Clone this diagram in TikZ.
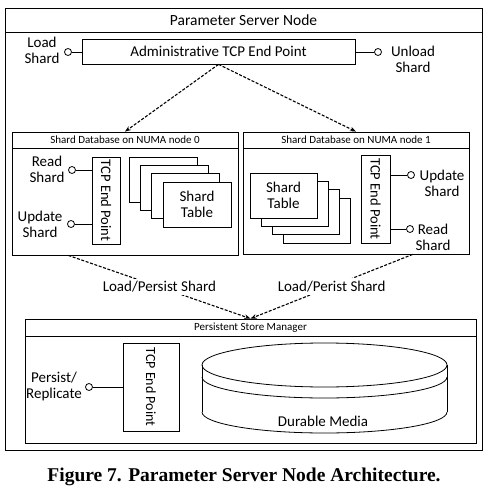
\documentclass[tikz,border=0pt]{standalone}
\usepackage{fontspec}
\setmainfont{Carlito}[Ligatures={NoCommon}]
\newfontfamily\capfont{Liberation Serif}
\usetikzlibrary{arrows.meta,calc}
\tikzset{
  box/.style={draw, fill=white, inner sep=0pt, line width=0.8pt},
  txt/.style={font=\fontsize{15}{16}\selectfont, align=center, inner sep=0pt},
  small/.style={font=\fontsize{11}{12}\selectfont, inner sep=0pt},
  port/.style={circle, draw, fill=white, inner sep=0pt, minimum size=7pt, line width=0.8pt},
  wire/.style={line width=0.8pt},
  dasharrow/.style={line width=1.1pt, dash pattern=on 3pt off 1.6pt, -{Stealth[length=6pt,width=4.5pt]}},
  tcpbox/.style={box, font=\fontsize{14.5}{15}\selectfont}
}
\begin{document}
\begin{tikzpicture}[x=1pt,y=-1pt]
\useasboundingbox (0,0) rectangle (488,487);
% outer node
\node[box, minimum width=477pt, minimum height=442pt] (outer) at (243.5,229) {};
\draw[wire] (5,32) -- (482,32);
\node[txt, font=\fontsize{15.5}{16}\selectfont] (title) at (243.5,20) {Parameter Server Node};
% admin
\node[box, minimum width=273pt, minimum height=25pt, font=\fontsize{15}{16}\selectfont] (admin) at (218.5,51.5) {Administrative TCP End Point};
\node[port] (pl) at (68,52) {};
\node[port] (pr) at (378,52) {};
\draw[wire] (pl) -- (admin.west |- pl);
\draw[wire] (admin.east |- pr) -- (pr);
\node[txt] (loadS) at (42,50) {Load\\Shard};
\node[txt] (unloadS) at (413,59) {Unload\\Shard};
% DB0
\node[box, minimum width=226pt, minimum height=123pt] (db0) at (125,193.5) {};
\draw[wire] (12,148) -- (238,148);
\node[small] (db0t) at (125,140) {Shard Database on NUMA node 0};
\node[tcpbox, minimum width=28pt, minimum height=87pt] (tcp0) at (106,200.5) {};
\node[rotate=-90, font=\fontsize{14.5}{15}\selectfont, inner sep=0pt] (tcp0t) at (106,200.5) {TCP End Point};
\node[port] (p0a) at (72,170) {};
\node[port] (p0b) at (71,224) {};
\draw[wire] (p0a) -- (tcp0.west |- p0a);
\draw[wire] (p0b) -- (tcp0.west |- p0b);
\node[txt] (rs0) at (47,169.5) {Read\\Shard};
\node[txt] (us0) at (40,224) {Update\\Shard};
\foreach \k in {3,2,1} {
  \node[box, minimum width=68pt, minimum height=45pt] (st0\k) at ({197-11.3*\k},{204.5-8.3*\k}) {};
}
\node[box, minimum width=68pt, minimum height=45pt, txt] (st0) at (197,204.5) {Shard\\Table};
% DB1
\node[box, minimum width=226pt, minimum height=122pt] (db1) at (356,193) {};
\draw[wire] (243,148) -- (469,148);
\node[small] (db1t) at (356,140) {Shard Database on NUMA node 1};
\foreach \k in {3,2,1} {
  \node[box, minimum width=67pt, minimum height=45pt] (st1\k) at ({283.5+11*\k},{195.5+8.3*\k}) {};
}
\node[box, minimum width=67pt, minimum height=45pt, txt] (st1) at (283.5,195.5) {Shard\\Table};
\node[tcpbox, minimum width=29pt, minimum height=88pt] (tcp1) at (375.5,199) {};
\node[rotate=-90, font=\fontsize{14.5}{15}\selectfont, inner sep=0pt] (tcp1t) at (375.5,199) {TCP End Point};
\node[port] (p1a) at (411,175) {};
\node[port] (p1b) at (410,229) {};
\draw[wire] (tcp1.east |- p1a) -- (p1a);
\draw[wire] (tcp1.east |- p1b) -- (p1b);
\node[txt] (us1) at (442,183) {Update\\Shard};
\node[txt] (rs1) at (433,237) {Read\\Shard};
% admin arrows
\draw[dasharrow] (admin.south) -- (db0.north);
\draw[dasharrow] (admin.south) -- (db1.north);
% PSM
\node[box, minimum width=451pt, minimum height=124pt] (psm) at (250.5,381) {};
\draw[wire] (25,336) -- (476,336);
\node[small] (psmt) at (250.5,328) {Persistent Store Manager};
\node[tcpbox, minimum width=56pt, minimum height=88pt] (tcp2) at (151,387) {};
\node[rotate=-90, font=\fontsize{14}{15}\selectfont, inner sep=0pt] (tcp2t) at (151,387) {TCP End Point};
\node[port] (p2) at (89,387) {};
\draw[wire] (p2) -- (tcp2.west |- p2);
\node[txt] (pr2) at (54,386) {Persist/\\Replicate};
% cylinder
\draw[wire] (202,365) -- (202,412);
\draw[wire] (447,365) -- (447,412);
\draw[wire] (324.5,365) ellipse [x radius=122.5pt, y radius=22pt];
\draw[wire] (447,377) arc [start angle=0, end angle=-180, x radius=122.5pt, y radius=21pt];
\draw[wire] (447,412) arc [start angle=0, end angle=-180, x radius=122.5pt, y radius=21pt];
\node[txt] (dm) at (323,421) {Durable Media};
% load/persist arrows
\draw[dasharrow] ($(db0.south west)!0.25!(db0.south east)$) -- node[txt, fill=white, inner sep=2.5pt] {Load/Persist Shard} (psm.north);
\draw[dasharrow] ($(db1.south west)!0.75!(db1.south east)$) -- node[txt, fill=white, inner sep=2.5pt] {Load/Perist Shard} (psm.north);
% caption
\node[font=\capfont\bfseries\fontsize{19.5}{20}\selectfont, inner sep=0pt, anchor=base] (cap) at (244,481.5) {Figure 7. Parameter Server Node Architecture.};
\end{tikzpicture}
\end{document}
